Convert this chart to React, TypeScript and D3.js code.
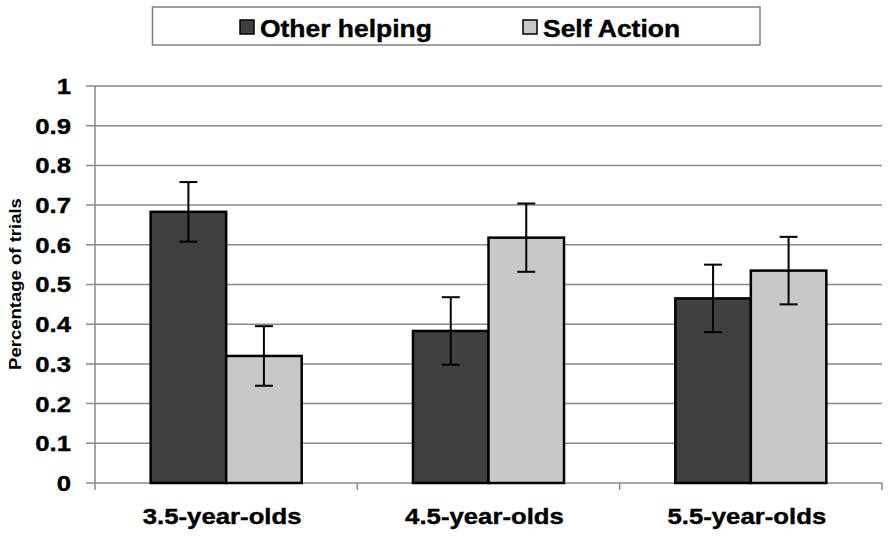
import React, { useEffect, useRef } from "react";
import * as d3 from "d3";

const categories = ["3.5-year-olds", "4.5-year-olds", "5.5-year-olds"];
const seriesNames = ["Other helping", "Self Action"];
const otherHelping = [0.683, 0.383, 0.465];
const selfAction = [0.32, 0.618, 0.535];
const otherHelpingErr = [0.075, 0.085, 0.085];
const selfActionErr = [0.075, 0.086, 0.085];
const yTicks = [0, 0.1, 0.2, 0.3, 0.4, 0.5, 0.6, 0.7, 0.8, 0.9, 1];

const colors = ["#404040", "#c8c8c8"];
const stretch = 1.17; // the picture is a bit wide, text looks stretched

const App: React.FC = () => {
  const chartRef = useRef<SVGSVGElement | null>(null);

  useEffect(() => {
    const width = 892;
    const height = 539;
    const margin = { top: 86, right: 10, bottom: 56, left: 95 };
    const plotW = width - margin.left - margin.right;
    const plotH = height - margin.top - margin.bottom;

    const svg = d3.select(chartRef.current);
    svg.selectAll("*").remove();

    const font = "'Liberation Sans', Arial, sans-serif";

    const g = svg
      .append("g")
      .attr("transform", `translate(${margin.left},${margin.top})`);

    const y = d3.scaleLinear().domain([0, 1]).range([plotH, 0]);
    const x0 = d3.scaleBand().domain(categories).range([0, plotW]).padding(0);
    const x1 = d3
      .scaleBand()
      .domain(seriesNames)
      .range([0, x0.bandwidth()])
      .paddingInner(0)
      .paddingOuter(0.737);

    // gridlines + y ticks
    g.append("g")
      .selectAll("line")
      .data(yTicks)
      .enter()
      .append("line")
      .attr("x1", -9)
      .attr("x2", plotW)
      .attr("y1", (d) => y(d))
      .attr("y2", (d) => y(d))
      .attr("stroke", "#8a8a8a")
      .attr("stroke-width", 1.5);

    // y axis line
    g.append("line")
      .attr("x1", 0)
      .attr("x2", 0)
      .attr("y1", 0)
      .attr("y2", plotH + 7)
      .attr("stroke", "#8a8a8a")
      .attr("stroke-width", 1.5);

    // category boundary ticks
    g.append("g")
      .selectAll("line")
      .data(categories)
      .enter()
      .append("line")
      .attr("x1", (d) => (x0(d) as number) + x0.bandwidth())
      .attr("x2", (d) => (x0(d) as number) + x0.bandwidth())
      .attr("y1", plotH)
      .attr("y2", plotH + 7)
      .attr("stroke", "#8a8a8a")
      .attr("stroke-width", 1.5);

    // y tick labels
    g.append("g")
      .selectAll("text")
      .data(yTicks)
      .enter()
      .append("text")
      .attr("transform", (d) => `translate(-24,${y(d)}) scale(${stretch},1)`)
      .attr("text-anchor", "end")
      .attr("dy", "0.36em")
      .style("font-family", font)
      .style("font-weight", "bold")
      .style("font-size", "22px")
      .style("stroke", "#000")
      .style("stroke-width", 0.4)
      .text((d) => String(d));

    // y axis title
    svg
      .append("text")
      .attr("transform", `translate(21,284) rotate(-90) scale(1.09,1)`)
      .attr("text-anchor", "middle")
      .style("font-family", font)
      .style("font-weight", "bold")
      .style("font-size", "17px")
      .text("Percentage of trials");

    // bars
    const rows = categories.map((c, i) => ({
      cat: c,
      vals: [
        { key: seriesNames[0], v: otherHelping[i], e: otherHelpingErr[i], c: colors[0] },
        { key: seriesNames[1], v: selfAction[i], e: selfActionErr[i], c: colors[1] },
      ],
    }));

    const groups = g
      .selectAll("g.grp")
      .data(rows)
      .enter()
      .append("g")
      .attr("class", "grp")
      .attr("transform", (d) => `translate(${x0(d.cat)},0)`);

    groups
      .selectAll("rect")
      .data((d) => d.vals)
      .enter()
      .append("rect")
      .attr("x", (d) => x1(d.key) as number)
      .attr("y", (d) => y(d.v))
      .attr("width", x1.bandwidth())
      .attr("height", (d) => plotH - y(d.v))
      .attr("fill", (d) => d.c)
      .attr("stroke", "#000")
      .attr("stroke-width", 2.5);

    // error bars
    const capW = 9;
    const err = groups
      .selectAll("g.err")
      .data((d) => d.vals)
      .enter()
      .append("g")
      .attr("class", "err")
      .attr("stroke", "#000")
      .attr("stroke-width", 2);
    const cx = (d: { key: string }) => (x1(d.key) as number) + x1.bandwidth() / 2;
    err
      .append("line")
      .attr("x1", cx)
      .attr("x2", cx)
      .attr("y1", (d) => y(d.v + d.e))
      .attr("y2", (d) => y(d.v - d.e));
    err
      .append("line")
      .attr("x1", (d) => cx(d) - capW)
      .attr("x2", (d) => cx(d) + capW)
      .attr("y1", (d) => y(d.v + d.e))
      .attr("y2", (d) => y(d.v + d.e));
    err
      .append("line")
      .attr("x1", (d) => cx(d) - capW)
      .attr("x2", (d) => cx(d) + capW)
      .attr("y1", (d) => y(d.v - d.e))
      .attr("y2", (d) => y(d.v - d.e));

    // category labels
    g.append("g")
      .selectAll("text")
      .data(categories)
      .enter()
      .append("text")
      .attr(
        "transform",
        (d) => `translate(${(x0(d) as number) + x0.bandwidth() / 2 - 4},${plotH + 41}) scale(${stretch},1)`
      )
      .attr("text-anchor", "middle")
      .style("font-family", font)
      .style("font-weight", "bold")
      .style("font-size", "22px")
      .style("stroke", "#000")
      .style("stroke-width", 0.4)
      .text((d) => d);

    // legend
    const legend = svg.append("g");
    legend
      .append("rect")
      .attr("x", 152.5)
      .attr("y", 7)
      .attr("width", 607.5)
      .attr("height", 38)
      .attr("fill", "#fff")
      .attr("stroke", "#808080")
      .attr("stroke-width", 1.5);

    const legendX = [240, 523];
    seriesNames.forEach((name, i) => {
      legend
        .append("rect")
        .attr("x", legendX[i])
        .attr("y", 20)
        .attr("width", 14)
        .attr("height", 14)
        .attr("fill", colors[i])
        .attr("stroke", "#000")
        .attr("stroke-width", 1.5);
      legend
        .append("text")
        .attr("transform", `translate(${legendX[i] + 20},37) scale(1.15,1)`)
        .style("font-family", font)
        .style("font-weight", "bold")
        .style("font-size", "23px")
        .style("stroke", "#000")
        .style("stroke-width", 0.4)
        .text(name);
    });
  }, []);

  return (
    <svg
      ref={chartRef}
      width={892}
      height={539}
      style={{ position: "absolute", left: 0, top: 0, background: "#fff" }}
    />
  );
};

export default App;
